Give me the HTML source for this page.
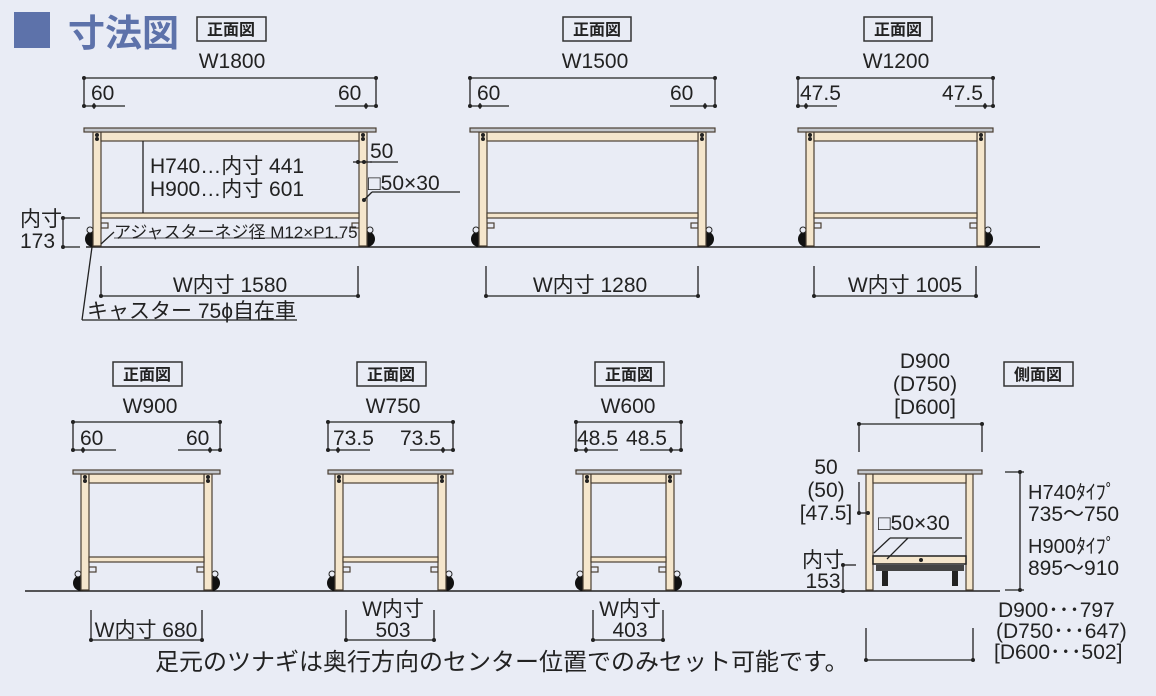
<!DOCTYPE html>
<html><head><meta charset="utf-8"><style>
html,body{margin:0;padding:0;background:#e9ecf5;}
svg{display:block}
text{font-family:"Liberation Sans","Noto Sans CJK JP",sans-serif;fill:#222;}
.t{font-size:21px}
.lb{font-size:16px;font-weight:bold}
</style></head><body>
<svg id="s" width="1156" height="696" viewBox="0 0 1156 696" xmlns="http://www.w3.org/2000/svg">
<rect width="1156" height="696" fill="#e9ecf5"/>
<rect x="14" y="12" width="36" height="36" fill="#5d72aa"/>
<text x="68" y="46" style="font-size:37px;font-weight:bold;fill:#5d72aa">寸法図</text>
<g id="g"></g>
<g id="labels">
<rect x="197" y="17" width="69" height="24" fill="#e9ecf5" stroke="#333" stroke-width="1.5"/><text x="231" y="35" class="lb" text-anchor="middle">正面図</text>
<rect x="563" y="17" width="68" height="24" fill="#e9ecf5" stroke="#333" stroke-width="1.5"/><text x="597" y="35" class="lb" text-anchor="middle">正面図</text>
<rect x="864" y="17" width="68" height="24" fill="#e9ecf5" stroke="#333" stroke-width="1.5"/><text x="898" y="35" class="lb" text-anchor="middle">正面図</text>
<rect x="113" y="362" width="69" height="24" fill="#e9ecf5" stroke="#333" stroke-width="1.5"/><text x="147" y="380" class="lb" text-anchor="middle">正面図</text>
<rect x="357" y="362" width="69" height="24" fill="#e9ecf5" stroke="#333" stroke-width="1.5"/><text x="391" y="380" class="lb" text-anchor="middle">正面図</text>
<rect x="595" y="362" width="69" height="24" fill="#e9ecf5" stroke="#333" stroke-width="1.5"/><text x="629" y="380" class="lb" text-anchor="middle">正面図</text>
<rect x="1004" y="362" width="69" height="24" fill="#e9ecf5" stroke="#333" stroke-width="1.5"/><text x="1038" y="380" class="lb" text-anchor="middle">側面図</text>
</g>
<g class="t">
<text x="232" y="68" text-anchor="middle" class="t">W1800</text>
<text x="91" y="100" class="t">60</text><text x="338" y="100" class="t">60</text>
<text x="150" y="173" class="t">H740…内寸 441</text>
<text x="150" y="196" class="t">H900…内寸 601</text>
<text x="370" y="158" class="t">50</text>
<text x="368" y="190" class="t">□50×30</text>
<text x="20" y="226" class="t">内寸</text><text x="20" y="248" class="t">173</text>
<text x="114" y="238" style="font-size:17px">アジャスターネジ径 M12×P1.75</text>
<text x="230" y="292" text-anchor="middle" class="t">W内寸 1580</text>
<text x="87" y="318" class="t">キャスター 75ϕ自在車</text>

<text x="595" y="68" text-anchor="middle" class="t">W1500</text>
<text x="477" y="100" class="t">60</text><text x="670" y="100" class="t">60</text>
<text x="590" y="292" text-anchor="middle" class="t">W内寸 1280</text>

<text x="896" y="68" text-anchor="middle" class="t">W1200</text>
<text x="800" y="100" class="t">47.5</text><text x="942" y="100" class="t">47.5</text>
<text x="905" y="292" text-anchor="middle" class="t">W内寸 1005</text>

<text x="150" y="413" text-anchor="middle" class="t">W900</text>
<text x="80" y="445" class="t">60</text><text x="186" y="445" class="t">60</text>
<text x="146" y="637" text-anchor="middle" class="t">W内寸 680</text>

<text x="393" y="413" text-anchor="middle" class="t">W750</text>
<text x="333" y="445" class="t">73.5</text><text x="400" y="445" class="t">73.5</text>
<text x="393" y="616" text-anchor="middle" class="t">W内寸</text>
<text x="393" y="637" text-anchor="middle" class="t">503</text>

<text x="628" y="413" text-anchor="middle" class="t">W600</text>
<text x="577" y="445" class="t">48.5</text><text x="626" y="445" class="t">48.5</text>
<text x="630" y="616" text-anchor="middle" class="t">W内寸</text>
<text x="630" y="637" text-anchor="middle" class="t">403</text>

<text x="925" y="368" text-anchor="middle" class="t">D900</text>
<text x="925" y="391" text-anchor="middle" class="t">(D750)</text>
<text x="925" y="414" text-anchor="middle" class="t">[D600]</text>
<text x="826" y="474" text-anchor="middle" class="t">50</text>
<text x="826" y="497" text-anchor="middle" class="t">(50)</text>
<text x="826" y="520" text-anchor="middle" class="t">[47.5]</text>
<text x="878" y="530" class="t">□50×30</text>
<text x="823" y="567" text-anchor="middle" class="t">内寸</text>
<text x="823" y="588" text-anchor="middle" class="t">153</text>
<text x="1028" y="499" class="t" style="font-size:20px">H740ﾀｲﾌﾟ</text>
<text x="1028" y="521" class="t">735～750</text>
<text x="1028" y="553" class="t" style="font-size:20px">H900ﾀｲﾌﾟ</text>
<text x="1028" y="575" class="t">895～910</text>
<text x="998" y="617" class="t">D900･･･797</text>
<text x="996" y="638" class="t">(D750･･･647)</text>
<text x="994" y="659" class="t">[D600･･･502]</text>
<text x="155" y="670" style="font-size:24px">足元のツナギは奥行方向のセンター位置でのみセット可能です。</text>
</g>
</svg>
<script>
var g=document.getElementById('g'),NS='http://www.w3.org/2000/svg';
function el(t,a){var e=document.createElementNS(NS,t);for(var k in a)e.setAttribute(k,a[k]);g.appendChild(e);return e;}
function L(x1,y1,x2,y2,w){el('line',{x1:x1,y1:y1,x2:x2,y2:y2,stroke:'#222','stroke-width':w||1.3});}
function D(x,y){el('circle',{cx:x,cy:y,r:2,fill:'#222'});}
function R(x,y,w,h,f){el('rect',{x:x,y:y,width:w,height:h,fill:f||'#f5e6cc',stroke:'#4a3f33','stroke-width':1.2});}
L(86,247,1040,247,1.5);L(25,591,1000,591,1.5);
function table(x1,x2,top,gr,ins){
 var lw=8,l1=x1+ins,l2=x2-ins-lw;
 el('circle',{cx:l1,cy:gr-8,r:8,fill:'#111'});el('circle',{cx:l2+lw,cy:gr-8,r:8,fill:'#111'});
 el('circle',{cx:l1-3,cy:gr-17,r:3,fill:'#e9ecf5',stroke:'#222'});el('circle',{cx:l2+lw+3,cy:gr-17,r:3,fill:'#e9ecf5',stroke:'#222'});
 R(l1+lw,gr-24,7,5,'#e9ecf5');R(l2-7,gr-24,7,5,'#e9ecf5');
 R(l1,top+4,lw,gr-top-5);R(l2,top+4,lw,gr-top-5);
 R(l1+lw,top+4,l2-l1-lw,9);
 R(l1+lw,gr-34,l2-l1-lw,5);
 R(x1,top,x2-x1,4,'#c4c7cc');
 D(l1+4,top+7);D(l1+4,top+11);D(l2+4,top+7);D(l2+4,top+11);
}
function topdim(x1,x2,y,ins,ly1,ly2){
 L(x1,y,x2,y);D(x1,y);D(x2,y);L(x1,y,x1,y+28);L(x2,y,x2,y+28);
 L(x1,y+28,ly1,y+28);L(ly2,y+28,x2,y+28);D(x1,y+28);D(x2,y+28);D(x1+ins,y+28);D(x2-ins,y+28);
 L(x1+ins,y+25,x1+ins,y+31);L(x2-ins,y+25,x2-ins,y+31);
}
function botdim(x1,x2,yt,yb){L(x1,yt,x1,yb);L(x2,yt,x2,yb);L(x1,yb,x2,yb);D(x1,yb);D(x2,yb);}
table(84,376,128,247,9);topdim(84,376,78,10,125,335);botdim(101,358,266,296);
table(470,715,128,247,9);topdim(470,715,78,10,509,670);botdim(486,698,266,296);
table(798,993,128,247,8);topdim(798,993,78,8,837,955);botdim(814,976,266,296);
table(73,220,470,591,8);topdim(73,220,422,10,116,178);botdim(91,202,610,640);
table(328,453,470,591,7);topdim(328,453,422,10,370,410);botdim(346,434,610,640);
table(576,681,470,591,7);topdim(576,681,422,10,618,640);botdim(593,663,610,640);
L(143,141,143,213);L(353,162,364,162);L(364,162,372,162);D(358,162);D(364,162);L(370,162,398,162);
L(372,192,460,192);D(364,200);L(364,200,372,192);
L(63,218,80,218);L(63,247,80,247);L(63,218,63,247);D(63,218);D(63,247);
L(101,244,114,232);L(114,238,342,238,0.8);
L(92,247,82,320);L(82,320,297,320);
botdim(866,973,628,660);
L(859,424,982,424);D(859,424);D(982,424);L(859,424,859,452);L(982,424,982,452);
R(866,474,7,116);R(966,474,7,116);R(873,474,93,9);
el('rect',{x:873,y:556,width:93,height:8,fill:'#f5e6cc',stroke:'#222','stroke-width':1.5});
el('rect',{x:876,y:565,width:88,height:6,fill:'#444'});
el('rect',{x:882,y:571,width:6,height:15,fill:'#222'});el('rect',{x:952,y:571,width:6,height:15,fill:'#222'});
R(858,470,124,4,'#c4c7cc');
L(874,553,890,538);L(890,538,962,538);L(887,559,908,538);D(921,560);
L(859,482,859,513);L(859,513,868,513);D(859,513);D(868,513);
L(843,565,856,565);L(843,565,843,591);D(843,565);D(843,591);
L(1005,472,1024,472);L(1020,472,1020,590);L(1005,590,1024,590);D(1020,472);D(1020,590);
</script>
</body></html>
